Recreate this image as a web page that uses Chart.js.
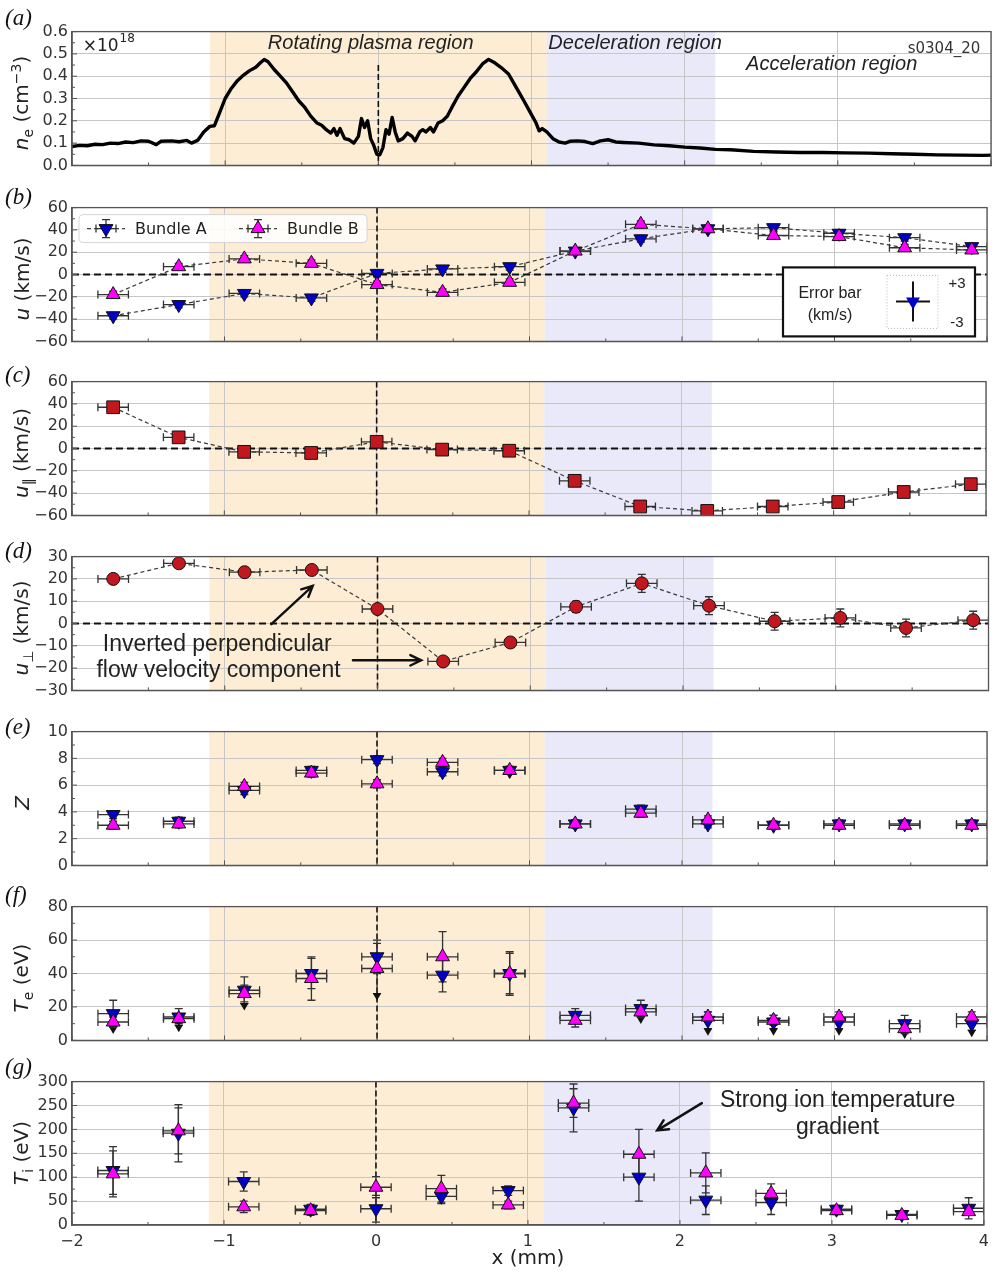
<!DOCTYPE html>
<html>
<head>
<meta charset="utf-8">
<script src="https://cdn.jsdelivr.net/npm/chart.js@4.4.1/dist/chart.umd.min.js"></script>
<style>
  body { margin: 0; background: #fff; }
  #fig { position: relative; width: 996px; height: 1272px; overflow: hidden; font-family: "DejaVu Sans", sans-serif; }
  #fig canvas { position: absolute; left: 0; }
  .ylab { position: absolute; left: 22px; transform: translate(-50%, -50%) rotate(-90deg); white-space: nowrap; font-size: 20px; color: #222; }
  .ylab sub, .ylab sup { font-size: 14px; }
  .plet { position: absolute; left: 5px; height: 26px; line-height: 26px; font-family: "Liberation Serif", "DejaVu Serif", serif; font-style: italic; font-size: 23px; color: #111; }
</style>
</head>
<body>
<div id="fig"></div>
<script>
// ---------- data ----------
const X_POS = [-1.73, -1.30, -0.87, -0.43, 0.00, 0.43, 0.87, 1.30, 1.73, 2.17, 2.60, 3.03, 3.46, 3.90];
const X_ERR = 0.1;
const X_TICKS = [-2, -1, 0, 1, 2, 3, 4];

const REGION_ROT = [-1.1, 1.1];
const REGION_DEC = [1.1, 2.2];

// (a) electron density profile, x 10^18 cm^-3
const NE_X = [-2.00, -1.95, -1.90, -1.85, -1.80, -1.75, -1.70, -1.65, -1.60, -1.55, -1.50, -1.45, -1.42, -1.35, -1.30,
  -1.25, -1.22, -1.18, -1.14, -1.10, -1.07, -1.04, -1.00, -0.96, -0.92, -0.88, -0.84, -0.80, -0.77, -0.745, -0.72,
  -0.68, -0.64, -0.60, -0.56, -0.52, -0.48, -0.44, -0.40, -0.37, -0.34, -0.31, -0.29, -0.27, -0.25, -0.22, -0.19,
  -0.16, -0.13, -0.11, -0.09, -0.07, -0.05, -0.03, -0.01, 0.01, 0.03, 0.05, 0.07, 0.09, 0.11, 0.13, 0.16, 0.19,
  0.22, 0.24, 0.27, 0.29, 0.31, 0.34, 0.36, 0.39, 0.42, 0.45, 0.48, 0.52, 0.56, 0.60, 0.64, 0.68, 0.72, 0.76,
  0.80, 0.85, 0.90, 0.95, 0.99, 1.03, 1.05, 1.07, 1.10, 1.14, 1.18, 1.22, 1.25, 1.30, 1.35, 1.40, 1.45, 1.50,
  1.55, 1.60, 1.70, 1.80, 1.90, 2.00, 2.10, 2.20, 2.30, 2.45, 2.60, 2.75, 2.90, 3.05, 3.20, 3.35, 3.50, 3.65,
  3.80, 3.95, 4.00];
const NE_Y = [0.085, 0.090, 0.088, 0.095, 0.093, 0.100, 0.098, 0.105, 0.102, 0.110, 0.108, 0.093, 0.108, 0.110, 0.106,
  0.112, 0.100, 0.112, 0.150, 0.175, 0.178, 0.230, 0.300, 0.345, 0.380, 0.405, 0.425, 0.440, 0.460, 0.475, 0.465,
  0.430, 0.400, 0.370, 0.330, 0.290, 0.260, 0.220, 0.190, 0.180, 0.160, 0.145, 0.165, 0.135, 0.165, 0.120, 0.115,
  0.100, 0.130, 0.210, 0.170, 0.200, 0.120, 0.090, 0.050, 0.048, 0.080, 0.160, 0.140, 0.215, 0.150, 0.110, 0.120, 0.145,
  0.130, 0.110, 0.150, 0.160, 0.150, 0.170, 0.150, 0.190, 0.200, 0.220, 0.260, 0.310, 0.350, 0.390, 0.420, 0.455, 0.475, 0.460,
  0.440, 0.410, 0.350, 0.290, 0.240, 0.190, 0.155, 0.165, 0.150, 0.120, 0.105, 0.100, 0.108, 0.110, 0.107, 0.098, 0.110, 0.115,
  0.105, 0.103, 0.100, 0.092, 0.088, 0.082, 0.078, 0.072, 0.070, 0.063, 0.060, 0.058, 0.058, 0.056, 0.055, 0.052, 0.050, 0.047,
  0.046, 0.045, 0.046];
const NE_TICKS = [0.0, 0.1, 0.2, 0.3, 0.4, 0.5, 0.6];

// (b) flow velocity, km/s
const U_A = [-37, -27, -17, -21, 1, 5, 7, 21, 32, 41, 42, 37, 33, 25];
const U_B = [-18, 7, 14, 10, -9, -16, -7, 21, 45, 41, 35, 34, 24, 22];
const U_ERR = 3;
const U_TICKS = [-60, -40, -20, 0, 20, 40, 60];

// (c) parallel component
const UPAR = [37, 10, -3, -4, 6, -1, -2, -29, -52, -56, -52, -48, -39, -32];
const UPAR_ERR = 1.5;

// (d) perpendicular component
const UPERP = [20, 27, 23, 24, 6.5, -17, -8.5, 7.5, 18, 8, 1, 2.5, -2, 1.5];
const UPERP_ERR = [1, 1, 1, 1, 1.5, 1.5, 1.5, 2.5, 4, 4, 4, 4, 4, 4];
const UPERP_TICKS = [-30, -20, -10, 0, 10, 20, 30];

// (e) ionisation Z
const Z_A = [3.8, 3.3, 5.6, 7.1, 7.9, 7.0, 7.1, 3.1, 4.2, 3.1, 3.0, 3.1, 3.1, 3.1];
const Z_B = [3.0, 3.1, 5.9, 6.9, 6.1, 7.7, 7.1, 3.1, 3.9, 3.4, 3.0, 3.0, 3.0, 3.0];
const Z_ERR = 0.3;
const Z_TICKS = [0, 2, 4, 6, 8, 10];

// (f) electron temperature, eV
const TE_A = [16, 14, 30, 40, 50, 39, 40, 15, 19, 12, 11, 11, 10, 10];
const TE_B = [11, 13, 28, 37, 43, 50, 40, 12, 17, 14, 12, 14, 7, 14];
const TE_A_ERR = [8, 5, 8, 9, 10, 10, 12, 4, 5, 5, 4, 4, 5, 4];
const TE_B_ERR = [3, 3, 5, 13, 15, 15, 13, 4, 3, 3, 3, 3, 3, 3];
const TE_A_CARET = [1, 1, 1, 0, 0, 0, 0, 0, 1, 1, 1, 1, 1, 1];
const TE_B_CARET = [0, 0, 0, 0, 1, 0, 0, 0, 0, 0, 0, 0, 0, 0];
const TE_TICKS = [0, 20, 40, 60, 80];

// (g) ion temperature, eV
const TI_A = [114, 192, 91, 33, 34, 60, 72, 245, 100, 52, 47, 33, 22, 35];
const TI_B = [107, 197, 38, 30, 79, 76, 42, 255, 148, 109, 66, 30, 20, 28];
const TI_A_ERR = [50, 60, 20, 10, 28, 15, 10, 50, 50, 30, 25, 8, 8, 22];
const TI_B_ERR = [48, 48, 12, 10, 22, 28, 8, 30, 52, 42, 20, 8, 8, 8];
const TI_TICKS = [0, 50, 100, 150, 200, 250, 300];

// ---------- style ----------
const BLUE = "#0000c8";
const MAGENTA = "#ff00ff";
const RED = "#c0181e";
const ORANGE = "rgb(252,237,212)";
const LAVENDER = "rgb(233,233,250)";
const GRID = "#c6c6c6";
const FRAME = "#555";
const SANS = "'Liberation Sans', Arial, sans-serif";

const PAD_T = 12, PLOT_H = 145, PLOT_L = 72, PAD_R = 5;

Chart.defaults.font.family = "'DejaVu Sans', sans-serif";
Chart.defaults.font.size = 16;
Chart.defaults.color = "#333";

const fig = document.getElementById("fig");
const pts = (xs, ys) => xs.map((x, i) => ({ x, y: ys[i] }));
const at = (e, j) => (Array.isArray(e) ? e[j] : e);
const minus = (v) => (v < 0 ? "\u2212" + Math.abs(v) : String(v));
const mids = (t) => t.slice(1).map((v, i) => (v + t[i]) / 2);

function markers(ys, opt) {
  return Object.assign({
    data: pts(X_POS, ys), xErr: X_ERR,
    pointRadius: 8, pointHoverRadius: 8, pointBorderColor: "#111", pointBorderWidth: 1,
    showLine: false
  }, opt);
}
const dashed = { showLine: true, borderColor: "#3a3a3a", borderWidth: 1.2, borderDash: [4, 3] };
const bundleA = { pointStyle: "triangle", pointRotation: 180, pointBackgroundColor: BLUE, order: 1 };
const bundleB = { pointStyle: "triangle", pointBackgroundColor: MAGENTA, order: 0 };

// ---------- drawing helpers ----------
function tri(ctx, x, y, r, down) {
  const s = down ? -1 : 1;
  ctx.beginPath();
  ctx.moveTo(x, y - s * r);
  ctx.lineTo(x + r * 0.866, y + s * r * 0.5);
  ctx.lineTo(x - r * 0.866, y + s * r * 0.5);
  ctx.closePath();
}
function text(ctx, s, px, py, font, align, color) {
  ctx.font = font;
  ctx.textAlign = align || "center";
  ctx.textBaseline = "middle";
  ctx.fillStyle = color || "#222";
  ctx.fillText(s, px, py);
}
function arrow(ctx, x0, y0, x1, y1) {
  const ang = Math.atan2(y1 - y0, x1 - x0), L = 12;
  ctx.save();
  ctx.strokeStyle = "#111"; ctx.lineWidth = 2.4; ctx.lineCap = "round";
  ctx.beginPath();
  ctx.moveTo(x0, y0); ctx.lineTo(x1, y1);
  ctx.moveTo(x1 - L * Math.cos(ang - 0.45), y1 - L * Math.sin(ang - 0.45));
  ctx.lineTo(x1, y1);
  ctx.lineTo(x1 - L * Math.cos(ang + 0.45), y1 - L * Math.sin(ang + 0.45));
  ctx.stroke();
  ctx.restore();
}
function errbar(ctx, x0, y0, x1, y1, cap, vertical) {
  ctx.beginPath();
  ctx.moveTo(x0, y0); ctx.lineTo(x1, y1);
  if (vertical) {
    ctx.moveTo(x0 - cap, y0); ctx.lineTo(x0 + cap, y0);
    ctx.moveTo(x1 - cap, y1); ctx.lineTo(x1 + cap, y1);
  } else {
    ctx.moveTo(x0, y0 - cap); ctx.lineTo(x0, y0 + cap);
    ctx.moveTo(x1, y1 - cap); ctx.lineTo(x1, y1 + cap);
  }
  ctx.stroke();
}

function drawLegendB(ctx, a) {
  const bx = a.left + 7, by = a.top + 7, bw = 288, bh = 28, cy = by + bh / 2;
  ctx.save();
  ctx.fillStyle = "rgba(255,255,255,0.85)";
  ctx.strokeStyle = "#d6d6d6"; ctx.lineWidth = 1;
  ctx.beginPath();
  ctx.roundRect(bx, by, bw, bh, 4);
  ctx.fill(); ctx.stroke();
  [{ hx: bx + 8, down: true, col: BLUE, label: "Bundle A" },
   { hx: bx + 160, down: false, col: MAGENTA, label: "Bundle B" }].forEach((e) => {
    const mx = e.hx + 19;
    ctx.strokeStyle = "#444"; ctx.lineWidth = 1.1; ctx.setLineDash([4, 3]);
    ctx.beginPath(); ctx.moveTo(e.hx, cy); ctx.lineTo(e.hx + 38, cy); ctx.stroke();
    ctx.setLineDash([]);
    ctx.strokeStyle = "#333"; ctx.lineWidth = 1.3;
    errbar(ctx, mx - 10, cy, mx + 10, cy, 4, false);
    errbar(ctx, mx, cy - 9, mx, cy + 9, 4, true);
    tri(ctx, mx, cy, 8, e.down);
    ctx.fillStyle = e.col; ctx.fill();
    ctx.strokeStyle = "#111"; ctx.lineWidth = 1; ctx.stroke();
    text(ctx, e.label, e.hx + 48, cy + 1, "16px 'DejaVu Sans'", "left", "#222");
  });
  ctx.restore();
}

function drawErrInset(ctx, a) {
  const bx = a.right - 204, by = a.bottom - 74, bw = 192, bh = 69;
  ctx.save();
  ctx.fillStyle = "#fff"; ctx.fillRect(bx, by, bw, bh);
  ctx.strokeStyle = "#111"; ctx.lineWidth = 2.2; ctx.strokeRect(bx, by, bw, bh);
  text(ctx, "Error bar", bx + 47, by + 26, "16px " + SANS, "center", "#222");
  text(ctx, "(km/s)", bx + 47, by + 48, "16px " + SANS, "center", "#222");
  ctx.strokeStyle = "#bbb"; ctx.lineWidth = 1; ctx.setLineDash([1, 2]);
  ctx.strokeRect(bx + 104, by + 8, 51, 53);
  ctx.setLineDash([]);
  const mx = bx + 130, my = by + 34;
  ctx.strokeStyle = "#111"; ctx.lineWidth = 2;
  ctx.beginPath();
  ctx.moveTo(mx, my - 20); ctx.lineTo(mx, my + 20);
  ctx.moveTo(mx - 17, my); ctx.lineTo(mx + 17, my);
  ctx.stroke();
  tri(ctx, mx, my, 8, true);
  ctx.fillStyle = BLUE; ctx.fill();
  text(ctx, "+3", bx + 174, by + 16, "15px " + SANS, "center", "#222");
  text(ctx, "-3", bx + 174, by + 55, "15px " + SANS, "center", "#222");
  ctx.restore();
}

// ---------- per-panel decoration plugin ----------
function decorPlugin(p) {
  return {
    id: "decor_" + p.key,
    beforeDraw(chart) {
      const { ctx, chartArea: a, scales: { x } } = chart;
      ctx.save();
      [[REGION_ROT, ORANGE], [REGION_DEC, LAVENDER]].forEach(([r, col]) => {
        const x0 = x.getPixelForValue(r[0]), x1 = x.getPixelForValue(r[1]);
        ctx.fillStyle = col;
        ctx.fillRect(x0, a.top, x1 - x0, a.bottom - a.top);
      });
      ctx.restore();
    },
    beforeDatasetsDraw(chart) {
      const { ctx, chartArea: a, scales: { x, y } } = chart;
      ctx.save();
      ctx.beginPath();
      ctx.rect(a.left, a.top, a.right - a.left, a.bottom - a.top);
      ctx.clip();
      // dashed reference lines
      ctx.strokeStyle = "#111";
      if (p.zeroLine) {
        ctx.lineWidth = 1.8; ctx.setLineDash([7, 4]);
        const y0 = y.getPixelForValue(0);
        ctx.beginPath(); ctx.moveTo(a.left, y0); ctx.lineTo(a.right, y0); ctx.stroke();
      }
      ctx.lineWidth = 1.6; ctx.setLineDash([6, 3]);
      const xv = x.getPixelForValue(0);
      const ytop = p.vlineTop !== undefined ? y.getPixelForValue(p.vlineTop) : a.top;
      ctx.beginPath(); ctx.moveTo(xv, ytop); ctx.lineTo(xv, a.bottom); ctx.stroke();
      ctx.setLineDash([]);
      // error bars
      chart.data.datasets.forEach((ds) => {
        if (ds.xErr === undefined) return;
        ctx.strokeStyle = "#333"; ctx.lineWidth = 1.3;
        ds.data.forEach((d, j) => {
          const px = x.getPixelForValue(d.x), py = y.getPixelForValue(d.y);
          const xe = at(ds.xErr, j);
          errbar(ctx, x.getPixelForValue(d.x - xe), py, x.getPixelForValue(d.x + xe), py, 4, false);
          if (ds.yErr !== undefined) {
            const ye = at(ds.yErr, j);
            const yLo = y.getPixelForValue(d.y - ye);
            errbar(ctx, px, y.getPixelForValue(d.y + ye), px, yLo, 4, true);
            if (ds.caret && ds.caret[j]) {
              tri(ctx, px, yLo + 2, 5, true);
              ctx.fillStyle = "#111"; ctx.fill();
            }
          }
        });
      });
      ctx.restore();
    },
    afterDatasetsDraw(chart) {
      const { ctx, chartArea: a, scales: { x, y } } = chart;
      ctx.save();
      // frame and inward ticks
      ctx.strokeStyle = FRAME; ctx.lineWidth = 1.3;
      ctx.strokeRect(a.left, a.top, a.right - a.left, a.bottom - a.top);
      ctx.lineWidth = 1;
      ctx.beginPath();
      X_TICKS.forEach((v) => { const px = x.getPixelForValue(v); ctx.moveTo(px, a.bottom); ctx.lineTo(px, a.bottom - 5); });
      mids(X_TICKS).forEach((v) => { const px = x.getPixelForValue(v); ctx.moveTo(px, a.bottom); ctx.lineTo(px, a.bottom - 3); });
      p.yTicks.forEach((v) => { const py = y.getPixelForValue(v); ctx.moveTo(a.left, py); ctx.lineTo(a.left + 5, py); });
      mids(p.yTicks).forEach((v) => { const py = y.getPixelForValue(v); ctx.moveTo(a.left, py); ctx.lineTo(a.left + 3, py); });
      ctx.stroke();
      // annotations
      (p.texts || []).forEach((t) => {
        const px = x.getPixelForValue(t.x), py = y.getPixelForValue(t.y);
        text(ctx, t.s, px, py, t.font, t.align, t.color);
        if (t.sup) {
          ctx.font = t.font;
          const w = ctx.measureText(t.s).width;
          const sx = t.align === "left" ? px + w : px + w / 2;
          text(ctx, t.sup, sx + 1, py - 7, t.supFont, "left", t.color);
        }
      });
      (p.arrows || []).forEach((r) => {
        arrow(ctx, x.getPixelForValue(r[0]), y.getPixelForValue(r[1]), x.getPixelForValue(r[2]), y.getPixelForValue(r[3]));
      });
      if (p.legendB) drawLegendB(ctx, a);
      if (p.errInset) drawErrInset(ctx, a);
      ctx.restore();
    }
  };
}

// ---------- panel factory ----------
function makePanel(p) {
  const bottomH = p.showX ? 47 : 4;
  const h = PAD_T + PLOT_H + bottomH;
  const cv = document.createElement("canvas");
  cv.width = 996; cv.height = h;
  cv.style.width = "996px"; cv.style.height = h + "px";
  cv.style.top = (p.top - PAD_T) + "px";
  fig.appendChild(cv);

  const yt = p.yTicks;
  return new Chart(cv, {
    type: "scatter",
    data: { datasets: p.datasets },
    options: {
      responsive: false, animation: false, devicePixelRatio: 1,
      layout: { padding: { top: PAD_T, right: PAD_R, left: 0, bottom: 0 } },
      plugins: { legend: { display: false }, tooltip: { enabled: false } },
      events: [],
      scales: {
        x: {
          type: "linear", min: -2, max: 4,
          afterBuildTicks: (s) => { s.ticks = X_TICKS.map((v) => ({ value: v })); },
          afterFit: (s) => { s.height = bottomH; },
          grid: { color: GRID, lineWidth: 1, drawTicks: false },
          border: { color: FRAME, width: 1.3 },
          ticks: { display: !!p.showX, padding: 7, callback: (v) => minus(v), color: "#333", font: { size: 16 } },
          title: { display: !!p.showX, text: "x (mm)", color: "#222", font: { size: 20 }, padding: { top: 0, bottom: 1 } }
        },
        y: {
          type: "linear", min: yt[0], max: yt[yt.length - 1],
          afterBuildTicks: (s) => { s.ticks = yt.map((v) => ({ value: v })); },
          afterFit: (s) => { s.width = PLOT_L; },
          grid: { color: GRID, lineWidth: 1, drawTicks: false },
          border: { color: FRAME, width: 1.3 },
          ticks: { padding: 4, callback: p.yFmt || ((v) => minus(v)), color: "#333", font: { size: 16 } }
        }
      }
    },
    plugins: [decorPlugin(p)]
  });
}

const ITAL = "italic 20px " + SANS;
const ANNOT = "23px " + SANS;

const PANELS = [
  {
    key: "a", top: 30, yTicks: NE_TICKS, yFmt: (v) => v.toFixed(1), vlineTop: 0.45,
    datasets: [{ data: pts(NE_X, NE_Y), showLine: true, borderColor: "#000", borderWidth: 3.4, pointRadius: 0, borderJoinStyle: "round" }],
    texts: [
      { s: "Rotating plasma region", x: -0.05, y: 0.546, font: ITAL },
      { s: "Deceleration region", x: 1.11, y: 0.546, font: ITAL, align: "left" },
      { s: "Acceleration region", x: 2.96, y: 0.451, font: ITAL },
      { s: "s0304_20", x: 3.93, y: 0.52, font: "15px 'DejaVu Sans'", align: "right", color: "#333" },
      { s: "\u00d710", x: -1.93, y: 0.535, font: "17px 'DejaVu Sans'", align: "left", color: "#222", sup: "18", supFont: "12px 'DejaVu Sans'" }
    ]
  },
  {
    key: "b", top: 206, yTicks: U_TICKS, zeroLine: true, legendB: true, errInset: true,
    datasets: [
      markers(U_A, Object.assign({ yErr: U_ERR }, bundleA, dashed)),
      markers(U_B, Object.assign({ yErr: U_ERR }, bundleB, dashed))
    ]
  },
  {
    key: "c", top: 380, yTicks: U_TICKS, zeroLine: true,
    datasets: [markers(UPAR, Object.assign({ yErr: UPAR_ERR, pointStyle: "rect", pointRadius: 9, pointHoverRadius: 9, pointBackgroundColor: RED }, dashed))]
  },
  {
    key: "d", top: 555, yTicks: UPERP_TICKS, zeroLine: true,
    datasets: [markers(UPERP, Object.assign({ yErr: UPERP_ERR, pointStyle: "circle", pointRadius: 6.5, pointHoverRadius: 6.5, pointBackgroundColor: RED }, dashed))],
    texts: [
      { s: "Inverted perpendicular", x: -1.049, y: -9.3, font: ANNOT },
      { s: "flow velocity component", x: -1.041, y: -21, font: ANNOT }
    ],
    arrows: [[-0.695, -0.3, -0.424, 16.9], [-0.161, -16.5, 0.286, -16.5]]
  },
  {
    key: "e", top: 730, yTicks: Z_TICKS,
    datasets: [markers(Z_A, Object.assign({ yErr: Z_ERR }, bundleA)), markers(Z_B, Object.assign({ yErr: Z_ERR }, bundleB))]
  },
  {
    key: "f", top: 905, yTicks: TE_TICKS,
    datasets: [
      markers(TE_A, Object.assign({ yErr: TE_A_ERR, caret: TE_A_CARET }, bundleA)),
      markers(TE_B, Object.assign({ yErr: TE_B_ERR, caret: TE_B_CARET }, bundleB))
    ]
  },
  {
    key: "g", top: 1080, yTicks: TI_TICKS, showX: true,
    datasets: [markers(TI_A, Object.assign({ yErr: TI_A_ERR }, bundleA)), markers(TI_B, Object.assign({ yErr: TI_B_ERR }, bundleB))],
    texts: [
      { s: "Strong ion temperature", x: 3.037, y: 260, font: ANNOT },
      { s: "gradient", x: 3.037, y: 203, font: ANNOT }
    ],
    arrows: [[2.144, 255, 1.85, 198]]
  }
];

PANELS.forEach(makePanel);

// ---------- axis titles and panel letters ----------
const YLABELS = [
  "<i>n</i><sub>e</sub> (cm<sup>\u22123</sup>)",
  "<i>u</i> (km/s)",
  "<i>u</i><sub>\u2225</sub> (km/s)",
  "<i>u</i><sub>\u22a5</sub> (km/s)",
  "<i>Z</i>",
  "<i>T</i><sub>e</sub> (eV)",
  "<i>T</i><sub>i</sub> (eV)"
];
const LETTERS = ["(a)", "(b)", "(c)", "(d)", "(e)", "(f)", "(g)"];
const LETTER_Y = [18, 197, 375, 551, 727, 895, 1067];

PANELS.forEach((p, i) => {
  const yl = document.createElement("div");
  yl.className = "ylab";
  yl.innerHTML = YLABELS[i];
  yl.style.top = (p.top + PLOT_H / 2) + "px";
  fig.appendChild(yl);
  const lt = document.createElement("div");
  lt.className = "plet";
  lt.textContent = LETTERS[i];
  lt.style.top = (LETTER_Y[i] - 13) + "px";
  fig.appendChild(lt);
});
</script>
</body>
</html>
